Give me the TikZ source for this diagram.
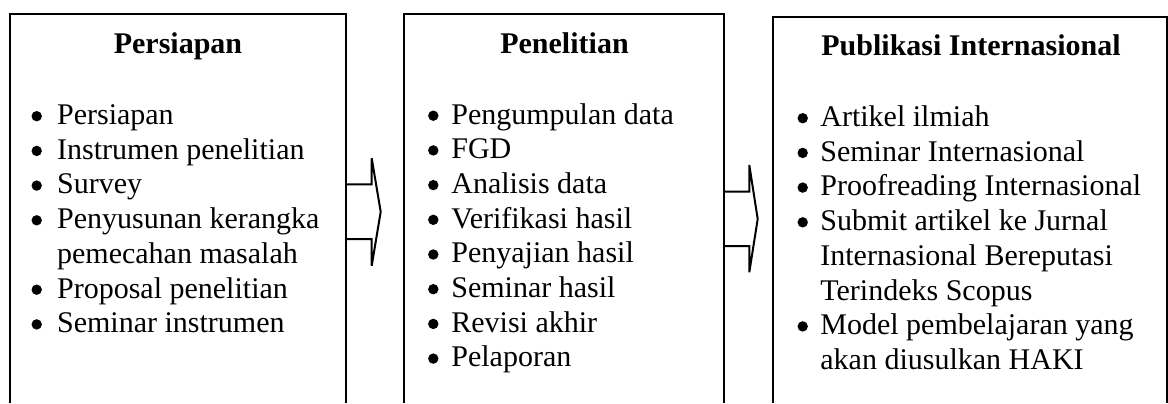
\documentclass[tikz,border=0pt]{standalone}
\usepackage{fontspec}
\setmainfont{Liberation Serif}
\begin{document}
\begin{tikzpicture}[x=0.5pt,y=-0.5pt,
  boxline/.style={line width=1pt,black},
  arrowline/.style={line width=1pt,black},
  titletext/.style={font=\fontsize{15}{17.35}\selectfont\bfseries,inner sep=0pt,anchor=base},
  itemtext/.style={font=\fontsize{15}{17.35}\selectfont,inner sep=0pt,anchor=base west},
  bulletdot/.style={fill=black}]
\useasboundingbox (0,0) rectangle (1168,403);
% boxes (open at the bottom)
\draw[boxline] (10,403) -- (10,14) -- (345.7,14) -- (345.7,403);
\draw[boxline] (404,403) -- (404,14) -- (724,14) -- (724,403);
\draw[boxline] (773,403) -- (773,16.5) -- (1166.7,16.5) -- (1166.7,403);
% titles
\node[titletext] (t1) at (178,53.5) {Persiapan};
\node[titletext] (t2) at (564.5,53.5) {Penelitian};
\node[titletext] (t3) at (971,55.5) {Publikasi Internasional};
% block arrows
\coordinate (a1) at (345.7,184.3);
\draw[arrowline] (a1) -- ++(26,0) -- ++(0,-26) -- ++(9,53.4) -- ++(-9,54) -- ++(0,-26.7) -- ++(-26,0);
\coordinate (a2) at (724,191.7);
\draw[arrowline] (a2) -- ++(25.3,0) -- ++(0,-26.7) -- ++(8.4,54) -- ++(-8.4,53.3) -- ++(0,-26.3) -- ++(-25.3,0);
% box 1 items
\foreach \b/\t [count=\i] in {1/Persiapan, 1/Instrumen penelitian, 1/Survey, 1/Penyusunan kerangka, 0/pemecahan masalah, 1/Proposal penelitian, 1/Seminar instrumen}{
  \node[itemtext] (p\i) at ({56.7},{124.5+(\i-1)*34.7}) {\t};
  \ifnum\b=1 \fill[bulletdot] (p\i.base west) ++(-20,-8.3) circle[radius=2.6pt];\fi
}
% box 2 items
\foreach \b/\t [count=\i] in {1/Pengumpulan data, 1/FGD, 1/Analisis data, 1/Verifikasi hasil, 1/Penyajian hasil, 1/Seminar hasil, 1/Revisi akhir, 1/Pelaporan}{
  \node[itemtext] (q\i) at ({451},{124+(\i-1)*34.7}) {\t};
  \ifnum\b=1 \fill[bulletdot] (q\i.base west) ++(-17.7,-8.3) circle[radius=2.6pt];\fi
}
% box 3 items
\foreach \b/\t [count=\i] in {1/Artikel ilmiah, 1/Seminar Internasional, 1/Proofreading Internasional, 1/Submit artikel ke Jurnal, 0/Internasional Bereputasi, 0/Terindeks Scopus, 1/Model pembelajaran yang, 0/akan diusulkan HAKI}{
  \node[itemtext] (r\i) at ({820},{126.5+(\i-1)*34.7}) {\t};
  \ifnum\b=1 \fill[bulletdot] (r\i.base west) ++(-17.3,-8.3) circle[radius=2.6pt];\fi
}
\end{tikzpicture}
\end{document}
